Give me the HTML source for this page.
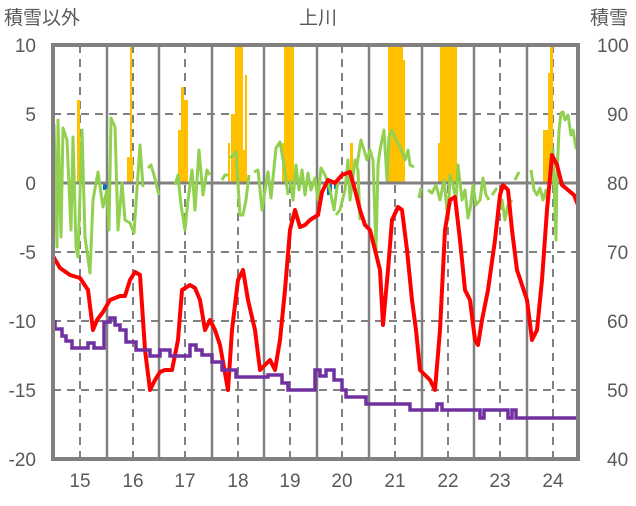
<!DOCTYPE html>
<html><head><meta charset="utf-8"><style>
body{margin:0;background:#fff}
svg text{font-family:"Liberation Sans","Noto Sans CJK JP",sans-serif;fill:#595959;font-size:19px}
</style></head><body>
<svg width="636" height="501" viewBox="0 0 636 501">
<g stroke="#808080" stroke-width="2.5">
<line x1="107" y1="45" x2="107" y2="459"/><line x1="159" y1="45" x2="159" y2="459"/><line x1="212" y1="45" x2="212" y2="459"/><line x1="264" y1="45" x2="264" y2="459"/><line x1="317" y1="45" x2="317" y2="459"/><line x1="369" y1="45" x2="369" y2="459"/><line x1="422" y1="45" x2="422" y2="459"/><line x1="474" y1="45" x2="474" y2="459"/><line x1="527" y1="45" x2="527" y2="459"/>
</g>
<g stroke="#808080" stroke-width="2" stroke-dasharray="8,6">
<line x1="80" y1="45" x2="80" y2="459"/><line x1="133" y1="45" x2="133" y2="459"/><line x1="185" y1="45" x2="185" y2="459"/><line x1="238" y1="45" x2="238" y2="459"/><line x1="290" y1="45" x2="290" y2="459"/><line x1="342" y1="45" x2="342" y2="459"/><line x1="395" y1="45" x2="395" y2="459"/><line x1="448" y1="45" x2="448" y2="459"/><line x1="500" y1="45" x2="500" y2="459"/><line x1="553" y1="45" x2="553" y2="459"/>
<line x1="53" y1="114" x2="578" y2="114"/><line x1="53" y1="252" x2="578" y2="252"/><line x1="53" y1="321" x2="578" y2="321"/><line x1="53" y1="390" x2="578" y2="390"/>
</g>
<g fill="#FFC000">
<rect x="77" y="100" width="3" height="83"/><rect x="130" y="45" width="2" height="138"/><rect x="127" y="157" width="6" height="26"/>
<rect x="178" y="130" width="4" height="53"/><rect x="181" y="87" width="3" height="96"/><rect x="184" y="100" width="4" height="83"/>
<rect x="228" y="143" width="2" height="40"/><rect x="231" y="114" width="6" height="69"/><rect x="235" y="45" width="8" height="138"/><rect x="245" y="75" width="2" height="108"/><rect x="243" y="150" width="4" height="33"/>
<rect x="282" y="143" width="4" height="40"/><rect x="284" y="45" width="6" height="138"/><rect x="290" y="45" width="4" height="138"/><rect x="286" y="87" width="3" height="96"/>
<rect x="350" y="143" width="3" height="40"/>
<rect x="388" y="45" width="15" height="138"/><rect x="403" y="60" width="2" height="123"/>
<rect x="438" y="143" width="3" height="40"/><rect x="440" y="45" width="17" height="138"/>
<rect x="543" y="130" width="5" height="53"/><rect x="548" y="73" width="5" height="110"/><rect x="550" y="45" width="3" height="138"/>
</g>
<g fill="#0070C0"><rect x="103" y="183" width="4" height="7"/><rect x="327" y="183" width="5" height="12"/><rect x="334" y="183" width="3" height="6"/></g>
<line x1="53" y1="183" x2="578" y2="183" stroke="#808080" stroke-width="3"/>
<g fill="none" stroke="#92D050" stroke-width="3" stroke-linejoin="round">
<polyline points="54,124 57,247 58,120 61,237 63,128 67,140 71,230 73,137 76,247 78,257 82,130 85,237 90,273 93,200 98,172 103,207 107,190 109,230 111,118 115,127 118,230 122,183 125,220 130,223 134,233 140,145 143,187"/>
<polyline points="148,168 151,165 154,175 159,195"/>
<polyline points="175,185 178,175 181,205 185,230 188,200 192,170 195,210 199,150 203,195 207,170 210,175"/>
<polyline points="222,180 225,175 228,175"/>
<polyline points="230,158 236,152 240,215 243,215 246,200 249,175"/>
<polyline points="254,172 258,170 262,210 265,190 268,172 271,198 274,168 276,148 280,142 284,165 288,195"/>
<polyline points="290,180 293,200 296,165 299,190 302,170 305,195 308,173 311,190 315,178 318,200 321,168 325,175 330,190 334,210 338,180"/>
<polyline points="336,215 340,210 345,190 348,160 350,200 352,185 355,160 358,170 360,220"/>
<polyline points="357,165 361,140 364,150 367,160 370,150 373,160 376,250 378,165 380,150 384,130 387,180 389,137 392,130 396,140 400,147 405,160 408,150 410,165 414,167"/>
<polyline points="419,198 421,188"/>
<polyline points="428,190 432,193 436,185 440,200 444,180 448,220 450,175 453,185 456,200 458,165 462,200 465,190 468,218 470,210 473,185 476,205 480,200 483,178 486,195 489,200"/>
<polyline points="492,195 497,188"/>
<polyline points="500,210 502,200 505,220 508,205 512,200"/>
<polyline points="515,180 519,172"/>
<polyline points="531,170 534,190 537,195 540,188 543,200 546,190 548,205 550,175 553,150 556,240 557,175 559,130 561,113 563,112 565,120 568,115 571,135 573,130 576,148 578,146"/>
</g>
<polyline fill="none" stroke="#FF0000" stroke-width="4" stroke-linejoin="round" points="53,256 60,268 70,275 80,278 88,290 93,330 97,320 103,312 110,300 120,296 125,296 130,280 135,272 140,275 145,350 150,390 155,380 160,372 165,370 172,370 178,340 182,290 190,285 195,288 200,300 205,330 210,320 215,330 220,345 228,390 232,330 238,280 243,270 248,300 255,330 260,370 265,365 270,360 275,370 280,340 285,290 290,230 295,210 300,227 305,225 310,220 318,215 322,192 328,180 335,183 342,175 350,172 355,190 360,210 365,225 370,230 375,250 380,270 383,325 388,270 392,220 398,207 402,210 407,250 412,300 416,330 420,370 425,375 430,380 435,390 440,330 445,230 450,200 455,197 460,240 465,290 470,300 475,340 478,345 482,320 488,290 495,240 500,195 503,185 508,190 512,230 517,270 522,285 527,300 532,340 537,330 542,280 547,210 552,155 557,165 562,185 568,190 574,195 578,205"/>
<polyline fill="none" stroke="#7030A0" stroke-width="3.5" points="53,322 55,322 55,329 62,329 62,336 66,336 66,341 72,341 72,348 88,348 88,343 94,343 94,348 104,348 104,322 110,322 110,318 115,318 115,325 120,325 120,330 126,330 126,342 136,342 136,350 150,350 150,356 160,356 160,350 170,350 170,356 190,356 190,345 196,345 196,350 202,350 202,355 212,355 212,362 222,362 222,370 236,370 236,377 268,377 268,375 282,375 282,383 288,383 288,390 315,390 315,370 320,370 320,376 326,376 326,370 334,370 334,380 342,380 342,390 346,390 346,397 366,397 366,404 410,404 410,410 437,410 437,404 442,404 442,410 480,410 480,418 484,418 484,410 508,410 508,418 512,418 512,410 516,410 516,418 578,418"/>
<rect x="53" y="45" width="525" height="414" fill="none" stroke="#808080" stroke-width="4"/>
<g text-anchor="end">
<text x="36" y="52">10</text><text x="36" y="121">5</text><text x="36" y="190">0</text><text x="36" y="259">-5</text><text x="36" y="328">-10</text><text x="36" y="397">-15</text><text x="36" y="466">-20</text>
</g>
<g text-anchor="start">
<text x="597" y="52">100</text><text x="607" y="121">90</text><text x="607" y="190">80</text><text x="607" y="259">70</text><text x="607" y="328">60</text><text x="607" y="397">50</text><text x="607" y="466">40</text>
</g>
<g text-anchor="middle">
<text x="80" y="487">15</text><text x="133" y="487">16</text><text x="185" y="487">17</text><text x="238" y="487">18</text><text x="290" y="487">19</text><text x="342" y="487">20</text><text x="395" y="487">21</text><text x="448" y="487">22</text><text x="500" y="487">23</text><text x="553" y="487">24</text>
<text x="318" y="24">上川</text>
</g>
<text x="4" y="24">積雪以外</text>
<text x="590" y="24">積雪</text>
</svg>
</body></html>
